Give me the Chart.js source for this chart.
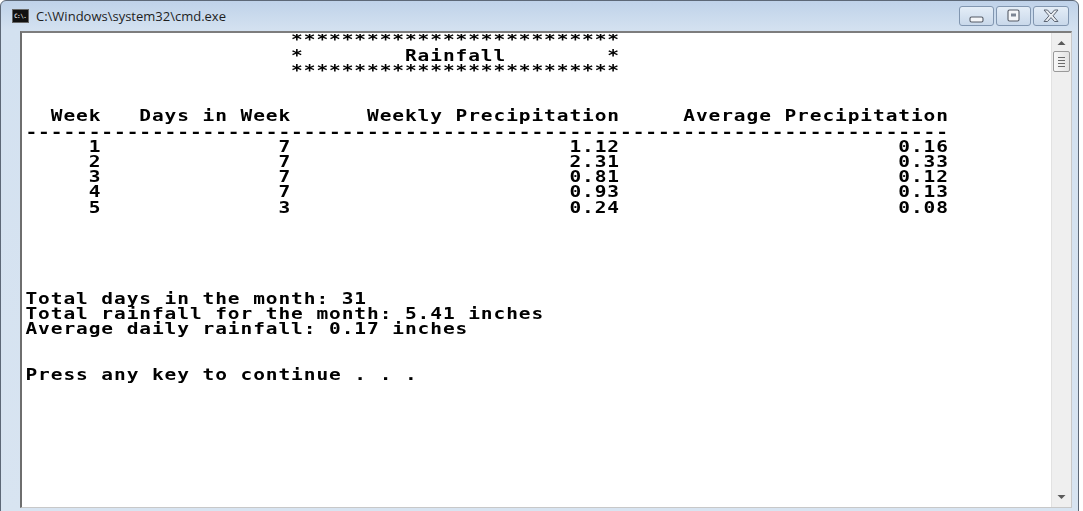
<!DOCTYPE html>
<html>
<head>
<meta charset="utf-8">
<script src="https://cdn.jsdelivr.net/npm/chart.js@4.4.1/dist/chart.umd.min.js"></script>
<style>
  html, body { margin: 0; padding: 0; background: #fff; width: 1083px; height: 511px; overflow: hidden; }
  .win { position: absolute; left: 0px; top: 0px; width: 1077px; height: 515px;
         border: 1px solid #5d6877; border-radius: 6px 6px 0 0;
         background: linear-gradient(#bfd2e9 0px, #d3e1f0 28px, #d8e4f1 100%); }
  .title { position: absolute; left: 35px; top: 6px; font: 13px "Open Sans", "Noto Sans", sans-serif; color: #1e1e1e; }
  .icon { position: absolute; left: 11px; top: 8px; width: 17px; height: 14px; background: #111; border: 1px solid #666;
          box-sizing: border-box; }
  .icon span { position: absolute; left: 1px; top: 2px; font: bold 6px "DejaVu Sans Mono", monospace; color: #ddd; letter-spacing: -0.5px; }
  .btn { position: absolute; top: 5px; height: 20px; border: 1px solid #8196b0; border-radius: 3px;
         background: linear-gradient(#e4edf7, #c9d8ea); box-sizing: border-box; }
  .client { position: absolute; left: 19px; top: 30px; width: 1049px; height: 474px; background: #fff;
            border-left: 2px solid #6e6e6e; border-top: 2px solid #7d7d7d; border-right: 1px solid #c8c8c8; border-bottom: 1px solid #c8c8c8; }
  .scroll { position: absolute; right: 0; top: 0; width: 19px; height: 474px; background: #efefef; border-left: 1px solid #e2e2e2; }
  .thumb { position: absolute; left: 1px; top: 18px; width: 17px; height: 21px; border: 1px solid #9a9a9a; border-radius: 2px;
           background: linear-gradient(90deg, #f8f8f8, #e2e2e2); box-sizing: border-box; }
  canvas { position: absolute; left: 25px; top: 34px; }
</style>
</head>
<body>
<div class="win">
  <div class="icon"><span>C:\.</span></div>
  <div class="title">C:\Windows\system32\cmd.exe</div>
  <div class="btn" style="left:958px;width:35px;">
    <svg width="33" height="18"><rect x="10" y="10" width="13" height="5" rx="1.5" fill="#f4f6f9" stroke="#555b66" stroke-width="1.1"/></svg>
  </div>
  <div class="btn" style="left:995px;width:35px;">
    <svg width="33" height="18"><rect x="11" y="3" width="11" height="11" rx="1.5" fill="#f4f6f9" stroke="#555b66" stroke-width="1.1"/><rect x="14" y="6.5" width="5" height="3" fill="#7c8594"/></svg>
  </div>
  <div class="btn" style="left:1032px;width:36px;">
    <svg width="34" height="18"><path d="M10 3 L13.5 3 L17 7 L20.5 3 L24 3 L19 8.8 L24 14.5 L20.5 14.5 L17 10.6 L13.5 14.5 L10 14.5 L15 8.8 Z" fill="#e9edf2" stroke="#5d6572" stroke-width="1"/></svg>
  </div>
  <div class="client">
    <div class="scroll">
      <svg width="19" height="474" style="position:absolute;left:0;top:0">
        <path d="M5.5 12 L9.5 8 L13.5 12 Z" fill="#5a5a5a"/>
        <path d="M5.5 462 L9.5 466 L13.5 462 Z" fill="#5a5a5a"/>
      </svg>
      <div class="thumb">
        <svg width="15" height="19"><g stroke="#6a6a6a" stroke-width="1"><line x1="4" y1="5.5" x2="11" y2="5.5"/><line x1="4" y1="8.5" x2="11" y2="8.5"/><line x1="4" y1="11.5" x2="11" y2="11.5"/><line x1="4" y1="14.5" x2="11" y2="14.5"/></g></svg>
      </div>
    </div>
  </div>
</div>
<canvas id="console" width="1027" height="470"></canvas>
<script>
// table values
const weeks = [1, 2, 3, 4, 5];
const daysInWeek = [7, 7, 7, 7, 3];
const weeklyPrecip = [1.12, 2.31, 0.81, 0.93, 0.24];
const avgPrecip = [0.16, 0.33, 0.12, 0.13, 0.08];
const totalDays = 31;
const totalRain = 5.41;
const avgDaily = 0.17;

const headerText = '  Week   Days in Week      Weekly Precipitation     Average Precipitation';

const CHAR_W = 12.65;   // console cell width
const ROW_H = 15.2;     // console cell height
const FIRST_DATA_ROW = 7;

// [row, col, text] lines printed before / after the table
const staticLines = [
  [0, 21, '*'.repeat(26)],
  [1, 21, '*        Rainfall        *'],
  [2, 21, '*'.repeat(26)],
  [5, 0, headerText],
  [6, 0, '-'.repeat(headerText.length)],
  [17, 0, 'Total days in the month: ' + totalDays],
  [18, 0, 'Total rainfall for the month: ' + totalRain.toFixed(2) + ' inches'],
  [19, 0, 'Average daily rainfall: ' + avgDaily.toFixed(2) + ' inches'],
  [22, 0, 'Press any key to continue . . .'],
];

// each column is right aligned on this cell edge
function columnSet(values, rightCol, fmt) {
  return {
    data: values.map((v, i) => ({ x: rightCol, y: FIRST_DATA_ROW + i + 0.5 })),
    labels: values.map(fmt),
    pointRadius: 0,
  };
}

function drawChar(ctx, ch, cx, cy) {
  if (ch === ' ') return;
  ctx.save();
  ctx.translate(cx, cy);
  ctx.scale(1.3, 1);
  ctx.fillText(ch, 0, 0);
  ctx.restore();
}

const consoleText = {
  id: 'consoleText',
  afterDatasetsDraw(chart) {
    const { ctx, scales: { x, y } } = chart;
    const cw = x.getPixelForValue(1) - x.getPixelForValue(0);
    ctx.save();
    ctx.font = 'bold 15px "DejaVu Sans Mono", monospace';
    ctx.fillStyle = '#000';
    ctx.textAlign = 'center';
    ctx.textBaseline = 'middle';

    staticLines.forEach(([row, col, text]) => {
      const cy = y.getPixelForValue(row + 0.5);
      [...text].forEach((ch, k) => drawChar(ctx, ch, x.getPixelForValue(col + k + 0.5), cy));
    });

    chart.data.datasets.forEach((ds, i) => {
      chart.getDatasetMeta(i).data.forEach((pt, j) => {
        const txt = ds.labels[j];
        const n = txt.length;
        [...txt].forEach((ch, k) => drawChar(ctx, ch, pt.x - (n - k - 0.5) * cw, pt.y));
      });
    });
    ctx.restore();
  }
};

new Chart(document.getElementById('console'), {
  type: 'scatter',
  data: {
    datasets: [
      columnSet(weeks, 6, v => String(v)),
      columnSet(daysInWeek, 21, v => String(v)),
      columnSet(weeklyPrecip, 47, v => v.toFixed(2)),
      columnSet(avgPrecip, 73, v => v.toFixed(2)),
    ]
  },
  options: {
    responsive: false,
    animation: false,
    events: [],
    layout: { padding: 0 },
    plugins: { legend: { display: false }, tooltip: { enabled: false } },
    scales: {
      x: { type: 'linear', display: false, min: 0, max: 1027 / CHAR_W },
      y: { type: 'linear', display: false, reverse: true, min: 0, max: 470 / ROW_H },
    }
  },
  plugins: [consoleText]
});
</script>
</body>
</html>
